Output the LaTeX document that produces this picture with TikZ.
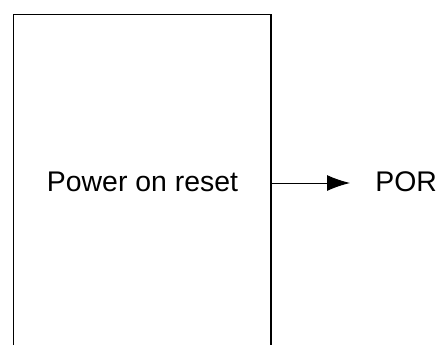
\documentclass[tikz,border=0pt]{standalone}
\usepackage{fontspec}
\setmainfont{Liberation Sans}
\usetikzlibrary{positioning, arrows.meta, calc}

\begin{document}
\begin{tikzpicture}[
    x=0.5pt, y=0.5pt,
    % Node Styles
    label text/.style={font=\fontsize{14.2pt}{16pt}\selectfont, inner sep=0pt},
    % Edge Styles
    boxline/.style={draw=black, line width=0.8pt},
    outarrow/.style={-{Latex[length=11.5pt, width=8pt]}, line width=0.5pt}
]
\useasboundingbox (0,0) rectangle (438,345);

% Block outline (open at the bottom)
\coordinate (box-bl) at (13.5,0);
\coordinate (box-tl) at (13.5,330.5);
\coordinate (box-tr) at (271,330.5);
\coordinate (box-br) at (271,0);
\draw[boxline] (box-bl) -- (box-tl) -- (box-tr) -- (box-br);

% Block name and output signal
\node[label text, anchor=base] (name) at (142.5,153.5) {Power on reset};
\node[label text, anchor=base west] (por) at (375,153.5) {POR};

% Output arrow
\coordinate (out) at (271,162);
\draw[outarrow, shorten >=12.5pt] (out) -- (out -| por.west);

\end{tikzpicture}
\end{document}
